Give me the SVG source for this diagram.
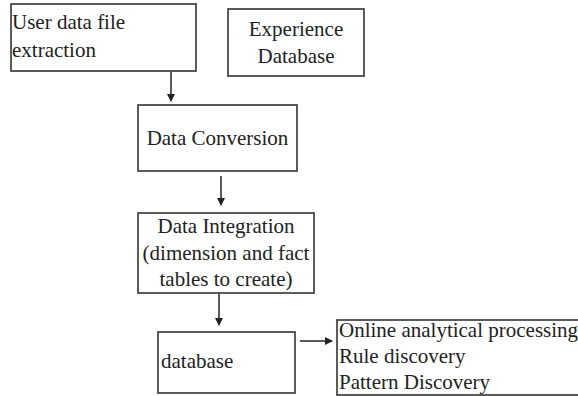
<svg xmlns="http://www.w3.org/2000/svg" width="578" height="396" viewBox="0 0 578 396">
<style>
.box{fill:#fff;stroke:#333;stroke-width:1.6}
.t{font-family:"Liberation Serif","Times New Roman",serif;font-size:21px;fill:#222}
.m{text-anchor:middle}
.c{stroke:#222;stroke-width:1.5;fill:none}
</style>
<defs>
<marker id="ah" markerWidth="8" markerHeight="8" refX="7" refY="4" orient="auto" markerUnits="userSpaceOnUse">
<path d="M0,0 L8,4 L0,8 Z" fill="#222"/>
</marker>
</defs>
<rect width="578" height="396" fill="#fff"/>
<g id="extraction">
<rect class="box" x="11" y="4" width="185" height="67"/>
<text class="t" x="12" y="29">User data file</text>
<text class="t" x="12" y="57">extraction</text>
</g>
<g id="experience">
<rect class="box" x="228" y="9" width="136" height="67"/>
<text class="t m" x="296" y="36">Experience</text>
<text class="t m" x="296" y="63">Database</text>
</g>
<g id="conversion">
<rect class="box" x="138" y="105" width="159" height="66"/>
<text class="t m" x="217.5" y="145">Data Conversion</text>
</g>
<g id="integration">
<rect class="box" x="138" y="213" width="176" height="80"/>
<text class="t m" x="226" y="233">Data Integration</text>
<text class="t m" x="226" y="260">(dimension and fact</text>
<text class="t m" x="226" y="286">tables to create)</text>
</g>
<g id="database">
<rect class="box" x="158" y="332" width="137" height="61"/>
<text class="t" x="161" y="368">database</text>
</g>
<g id="analysis">
<rect class="box" x="337" y="320" width="250" height="75"/>
<text class="t" x="339" y="337">Online analytical processing</text>
<text class="t" x="339" y="363">Rule discovery</text>
<text class="t" x="339" y="389">Pattern Discovery</text>
</g>
<g id="connectors">
<line class="c" x1="171" y1="72" x2="171" y2="101" marker-end="url(#ah)"/>
<line class="c" x1="221" y1="176" x2="221" y2="205" marker-end="url(#ah)"/>
<line class="c" x1="219" y1="294" x2="219" y2="325" marker-end="url(#ah)"/>
<line class="c" x1="300" y1="341" x2="332" y2="341" marker-end="url(#ah)"/>
</g>
</svg>
